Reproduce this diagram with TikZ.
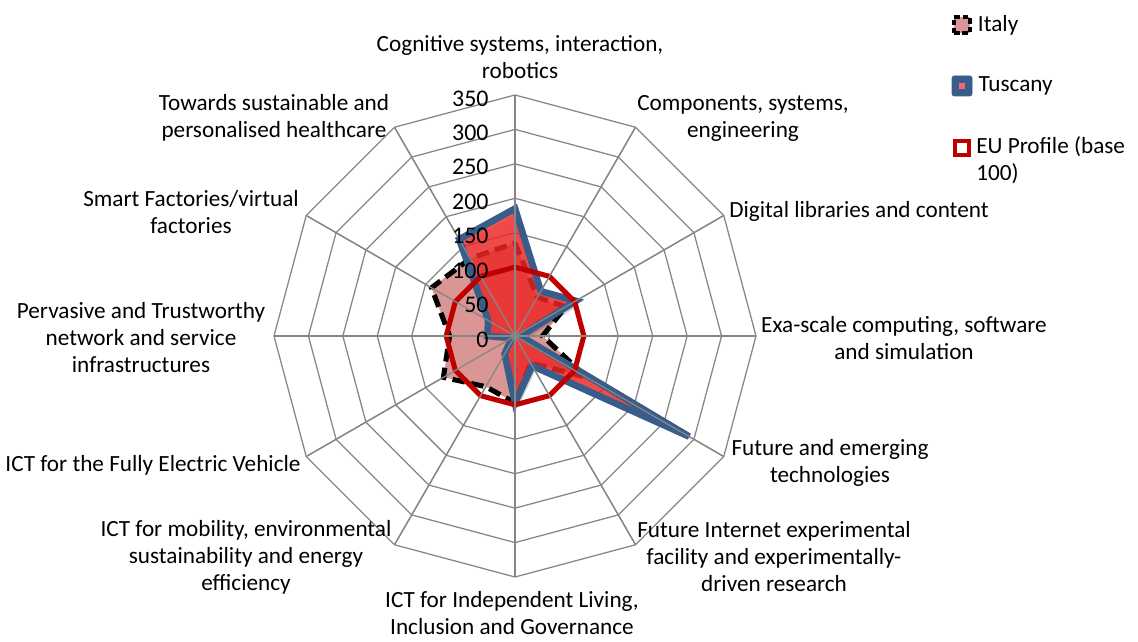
\documentclass[tikz,border=0pt]{standalone}
\usepackage{fontspec}
\setmainfont{Carlito}
\usepackage{xcolor}
\usetikzlibrary{positioning}

\definecolor{gridgray}{RGB}{134,134,134}
\definecolor{italypink}{RGB}{217,150,148}
\definecolor{tuscblue}{RGB}{56,93,138}
\definecolor{tuscred}{RGB}{246,40,40}
\definecolor{eured}{RGB}{192,0,0}

\begin{document}
\begin{tikzpicture}[x=0.025cm,y=-0.025cm,
  cat/.style={align=center,font=\fontsize{16.5}{19.2}\selectfont,inner sep=0pt},
  tick/.style={anchor=east,font=\fontsize{17}{19}\selectfont,inner sep=0pt},
  gridline/.style={draw=gridgray,line width=0.9pt},
  italy/.style={fill=italypink,draw=black,line width=3.6pt,dash pattern=on 9pt off 4.5pt},
  tuscany/.style={fill=tuscred,fill opacity=0.8,draw=tuscblue,line width=4.8pt,line join=miter},
  eu/.style={draw=eured,line width=3.6pt,line join=round},
  leg/.style={anchor=west,align=left,font=\fontsize{16.5}{19.2}\selectfont,inner sep=0pt}]
\useasboundingbox (0,0) rectangle (1138,642);

% radar, value units
\begin{scope}[shift={(515,336)},x=0.017214cm,y=0.017214cm]
\foreach \r in {50,100,...,350}
  \draw[gridline] (0:\r) \foreach \a in {30,60,...,330}{ -- (\a:\r)} -- cycle;
\foreach \a in {0,30,...,330}
  \draw[gridline] (0,0) -- (\a:350);

% Italy
\path[italy] (90:135) -- (60:65) -- (30:85) -- (0:40) -- (-30:120) -- (-60:45)
  -- (-90:97) -- (-120:85) -- (-150:120) -- (180:95) -- (150:140) -- (120:130) -- cycle;

% Tuscany shadow
\begin{scope}[shift={(5,-6)}]
\fill[black,opacity=0.18] (90:185) -- (60:75) -- (30:102) -- (0:8) -- (-30:292) -- (-60:50)
  -- (-90:97) -- (-120:30) -- (-150:5) -- (180:40) -- (150:45) -- (120:162) -- cycle;
\end{scope}
% Tuscany
\path[tuscany] (90:185) -- (60:75) -- (30:102) -- (0:8) -- (-30:292) -- (-60:50)
  -- (-90:97) -- (-120:30) -- (-150:5) -- (180:40) -- (150:45) -- (120:162) -- cycle;

% EU profile
\draw[eu] (0:100) \foreach \a in {30,60,...,330}{ -- (\a:100)} -- cycle;

\foreach \a in {0,30,...,330}
  \draw[gridline] (0,0) -- (\a:350);

\foreach \v in {0,50,...,350}
  \node[tick] (tick\v) at (-38,\v-5) {\v};
\end{scope}

% category labels
\node[cat] (cog) at (520,57) {Cognitive systems, interaction,\\robotics};
\node[cat] (comp) at (743,118) {Components, systems,\\engineering};
\node[cat] (dig) at (859,211) {Digital libraries and content};
\node[cat] (exa) at (904,338) {Exa-scale computing, software\\and simulation};
\node[cat] (fut) at (830,463) {Future and emerging\\technologies};
\node[cat] (fint) at (774,557) {Future Internet experimental\\facility and experimentally-\\driven research};
\node[cat] (indep) at (512,613) {ICT for Independent Living,\\Inclusion and Governance};
\node[cat] (mob) at (246,557) {ICT for mobility, environmental\\sustainability and energy\\efficiency};
\node[cat] (elec) at (153,465) {ICT for the Fully Electric Vehicle};
\node[cat] (perv) at (141,338) {Pervasive and Trustworthy\\network and service\\infrastructures};
\node[cat] (smart) at (191,212) {Smart Factories/virtual\\factories};
\node[cat] (health) at (274,118) {Towards sustainable and\\personalised healthcare};

% legend
\node[draw=black,fill=italypink,line width=2.4pt,dash pattern=on 4pt off 2pt,minimum size=0.4cm,inner sep=0pt] (lgItaly) at (962,25) {};
\node[leg,right=0.15cm of lgItaly] (txItaly) {Italy};
\node[draw=tuscblue,fill=tuscblue,rounded corners=1.5pt,minimum size=0.5cm,inner sep=0pt] (lgTusc) at (962,86) {};
\node[fill=tuscred!70!white,minimum size=0.16cm,inner sep=0pt] at (lgTusc) {};
\node[leg,right=0.15cm of lgTusc] (txTusc) {Tuscany};
\node[draw=eured,fill=white,line width=2.6pt,minimum size=0.36cm,inner sep=0pt] (lgEU) at (962,148) {};
\node[leg,anchor=north west] (txEU) at (976,136) {EU Profile (base\\100)};
\end{tikzpicture}
\end{document}
